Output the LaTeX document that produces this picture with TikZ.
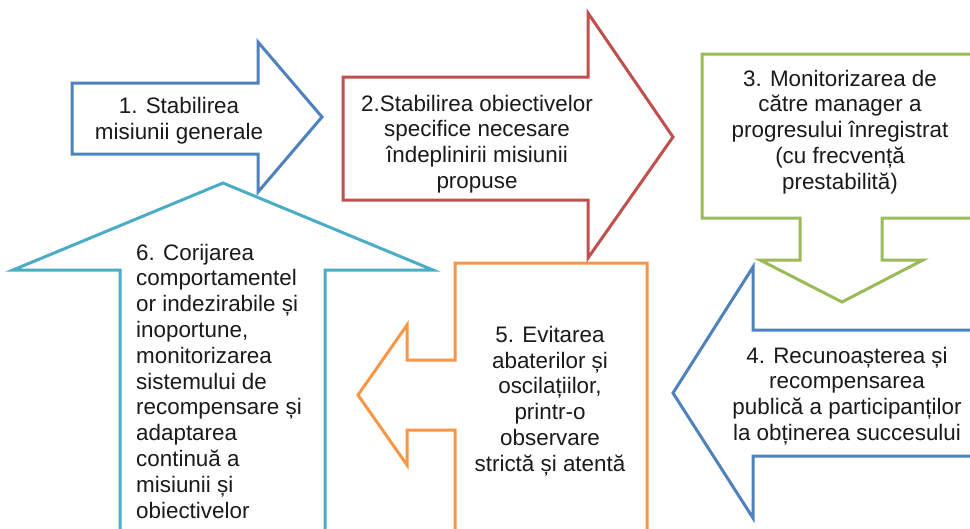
\documentclass[tikz,border=0pt]{standalone}
\usepackage{fontspec}
\setmainfont{Liberation Sans}
\definecolor{cblue}{HTML}{4F81BD}
\definecolor{cred}{HTML}{C0504D}
\definecolor{cgreen}{HTML}{9BBB59}
\definecolor{ccyan}{HTML}{4BACC6}
\definecolor{corange}{HTML}{F79646}
\definecolor{ctext}{HTML}{1A1A1A}
\tikzset{
  shapebox/.style={line width=3pt, line join=miter, fill=white},
  label/.style={inner sep=0pt, text=ctext, font=\fontsize{22.4}{25.8}\selectfont},
}
\begin{document}
\begin{tikzpicture}[x=1pt,y=-1pt]
\useasboundingbox (0,0) rectangle (970,528);
\clip (0,0) rectangle (970,528);
% 6 cyan up arrow
\draw[shapebox, draw=ccyan] (120,545) -- (120,270) -- (13,270) -- (223,183) -- (433,270) -- (325,270) -- (325,545) -- cycle;
% 5 orange left callout
\draw[shapebox, draw=corange] (455,263) -- (647,263) -- (647,545) -- (455,545) -- (455,430) -- (407,430) -- (407,465) -- (358,395) -- (407,325) -- (407,360) -- (455,360) -- cycle;
% 4 blue left arrow
\draw[shapebox, draw=cblue] (990,330) -- (753,330) -- (753,267) -- (673,393) -- (753,518) -- (753,456) -- (990,456) -- cycle;
% 3 green down callout
\draw[shapebox, draw=cgreen] (702,54) -- (980,54) -- (980,218) -- (882,218) -- (882,260) -- (923,260) -- (842,302) -- (760,260) -- (800,260) -- (800,218) -- (702,218) -- cycle;
% 2 red right arrow
\draw[shapebox, draw=cred] (343,77) -- (588,77) -- (588,13) -- (673,137) -- (588,258) -- (588,200) -- (343,200) -- cycle;
% 1 blue right arrow
\draw[shapebox, draw=cblue] (72,83) -- (258,83) -- (258,42) -- (322,117) -- (258,192) -- (258,154) -- (72,154) -- cycle;

\node[label, align=center] (t1) at (179,121) {1. Stabilirea\\misiunii generale};
\node[label, align=center] (t2) at (477,144) {2.Stabilirea obiectivelor\\specifice necesare\\îndeplinirii misiunii\\propuse};
\node[label, align=center] (t3) at (840,132) {3. Monitorizarea de\\către manager a\\progresului înregistrat\\(cu frecvență\\prestabilită)};
\node[label, align=center] (t4) at (847,396) {4. Recunoașterea și\\recompensarea\\publică a participanților\\la obținerea succesului};
\node[label, align=center] (t5) at (550,401) {5. Evitarea\\abaterilor și\\oscilațiilor,\\printr-o\\observare\\strictă și atentă};
\node[label, align=left, anchor=west] (t6) at (136,381) {6. Corijarea\\comportamentel\\or indezirabile și\\inoportune,\\monitorizarea\\sistemului de\\recompensare și\\adaptarea\\continuă a\\misiunii și\\obiectivelor};
\end{tikzpicture}
\end{document}
